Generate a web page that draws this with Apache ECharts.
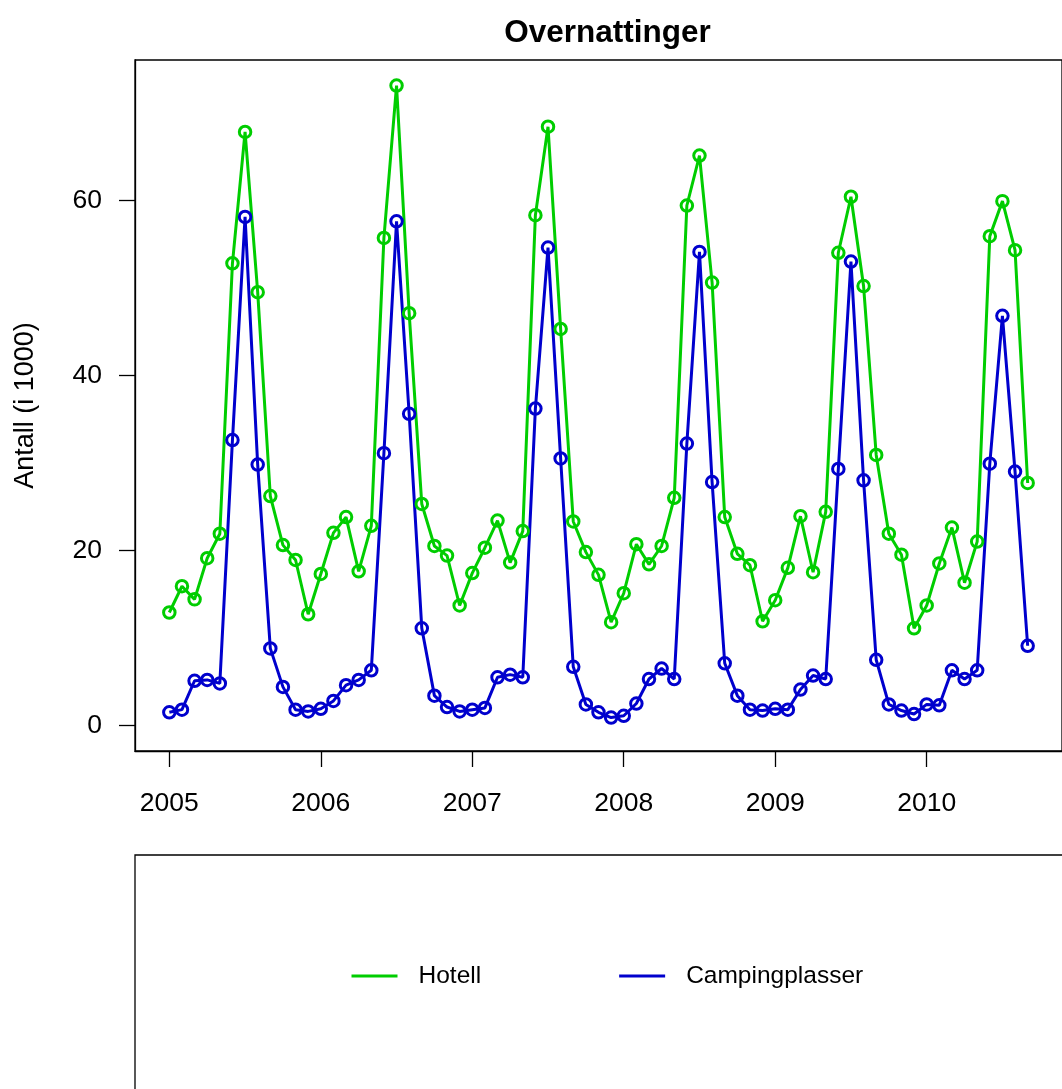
<!DOCTYPE html>
<html>
<head>
<meta charset="utf-8">
<script src="https://cdn.jsdelivr.net/npm/echarts@6/dist/echarts.min.js"></script>
<style>
html,body{margin:0;padding:0;background:#fff;}
#chart{width:1062px;height:1089px;}
</style>
</head>
<body>
<div id="chart"></div>
<script>
// Months (Jan 2005 – Sep 2010)
const periods = [
  '2005-01','2005-02','2005-03','2005-04','2005-05','2005-06','2005-07','2005-08','2005-09','2005-10','2005-11','2005-12',
  '2006-01','2006-02','2006-03','2006-04','2006-05','2006-06','2006-07','2006-08','2006-09','2006-10','2006-11','2006-12',
  '2007-01','2007-02','2007-03','2007-04','2007-05','2007-06','2007-07','2007-08','2007-09','2007-10','2007-11','2007-12',
  '2008-01','2008-02','2008-03','2008-04','2008-05','2008-06','2008-07','2008-08','2008-09','2008-10','2008-11','2008-12',
  '2009-01','2009-02','2009-03','2009-04','2009-05','2009-06','2009-07','2009-08','2009-09','2009-10','2009-11','2009-12',
  '2010-01','2010-02','2010-03','2010-04','2010-05','2010-06','2010-07','2010-08','2010-09'
];

// Hotell (i 1000)
const hotell = [
  12.9, 15.9, 14.4, 19.1, 21.9, 52.8, 67.8, 49.5, 26.2, 20.6, 18.9, 12.7,
  17.3, 22.0, 23.8, 17.6, 22.8, 55.7, 73.1, 47.1, 25.3, 20.5, 19.4, 13.7,
  17.4, 20.3, 23.4, 18.6, 22.2, 58.3, 68.4, 45.3, 23.3, 19.8, 17.2, 11.8,
  15.1, 20.7, 18.4, 20.5, 26.0, 59.4, 65.1, 50.6, 23.8, 19.6, 18.3, 11.9,
  14.3, 18.0, 23.9, 17.5, 24.4, 54.0, 60.4, 50.2, 30.9, 21.9, 19.5, 11.1,
  13.7, 18.5, 22.6, 16.3, 21.0, 55.9, 59.9, 54.3, 27.7
];

// Campingplasser (i 1000)
const camping = [
  1.5, 1.8, 5.1, 5.2, 4.8, 32.6, 58.1, 29.8, 8.8, 4.4, 1.8, 1.6,
  1.9, 2.8, 4.6, 5.2, 6.3, 31.1, 57.6, 35.6, 11.1, 3.4, 2.1, 1.6,
  1.8, 2.0, 5.5, 5.8, 5.5, 36.2, 54.6, 30.5, 6.7, 2.4, 1.5, 0.9,
  1.1, 2.5, 5.3, 6.5, 5.3, 32.2, 54.1, 27.8, 7.1, 3.4, 1.8, 1.7,
  1.9, 1.8, 4.1, 5.7, 5.3, 29.3, 53.0, 28.0, 7.5, 2.4, 1.7, 1.3,
  2.4, 2.3, 6.3, 5.3, 6.3, 29.9, 46.8, 29.0, 9.1
];

const xTicks = [2005, 2006, 2007, 2008, 2009, 2010];
const yTicks = [0, 20, 40, 60];
const seriesNames = ['Hotell', 'Campingplasser'];

const GREEN = '#00CD00';
const BLUE = '#0000CD';
const FONT = 'Liberation Sans, Arial, Helvetica, sans-serif';

// time in fractional years from period strings
const tx = periods.map(p => { const [y, m] = p.split('-').map(Number); return y + (m - 1) / 12; });

// R-style 4% axis extension
const xMinD = Math.min(...tx), xMaxD = Math.max(...tx);
const xr = xMaxD - xMinD;
const xMin = xMinD - 0.04 * xr, xMax = xMaxD + 0.04 * xr;
const yMinD = 0, yMaxD = Math.max(...hotell, ...camping);
const yr = yMaxD - yMinD;
const yMin = yMinD - 0.04 * yr, yMax = yMaxD + 0.04 * yr;

const hotData = tx.map((t, i) => [t, hotell[i]]);
const campData = tx.map((t, i) => [t, camping[i]]);

const chart = echarts.init(document.getElementById('chart'), null, {renderer: 'canvas'});

function mkSeries(name, data, color) {
  return {
    name: name,
    type: 'line',
    data: data,
    symbol: 'circle',
    symbolSize: 11.5,
    showSymbol: true,
    lineStyle: {color: color, width: 3},
    itemStyle: {color: 'rgba(0,0,0,0)', borderColor: color, borderWidth: 3},
    emphasis: {disabled: true},
    clip: false,
    z: 3
  };
}

const option = {
  animation: false,
  backgroundColor: '#fff',
  textStyle: {fontFamily: FONT},
  title: {
    text: 'Overnattinger',
    left: 602.5,
    top: 12,
    textAlign: 'center',
    textStyle: {fontFamily: FONT, fontSize: 31.5, fontWeight: 'bold', color: '#000'}
  },
  grid: {
    left: 135, top: 60, right: -8, bottom: 338,
    show: true, borderColor: '#000', borderWidth: 1.3, backgroundColor: 'rgba(0,0,0,0)',
    containLabel: false
  },
  xAxis: {
    type: 'value',
    min: xMin, max: xMax,
    axisLine: {show: true, onZero: false, lineStyle: {color: '#000', width: 1.3}},
    axisTick: {show: true, inside: false, length: 16, lineStyle: {color: '#000', width: 1.3}, customValues: xTicks},
    axisLabel: {show: true, customValues: xTicks, formatter: v => String(Math.round(v)), fontSize: 26.5, color: '#000', margin: 39, fontFamily: FONT},
    splitLine: {show: false}
  },
  yAxis: {
    type: 'value',
    min: yMin, max: yMax,
    name: 'Antall (i 1000)',
    nameLocation: 'middle',
    nameRotate: 90,
    nameGap: 96,
    nameTextStyle: {fontSize: 27, color: '#000', fontFamily: FONT},
    axisLine: {show: true, onZero: false, lineStyle: {color: '#000', width: 1.3}},
    axisTick: {show: true, inside: false, length: 16, lineStyle: {color: '#000', width: 1.3}, customValues: yTicks},
    axisLabel: {show: true, customValues: yTicks, formatter: v => String(Math.round(v)), fontSize: 26.5, color: '#000', margin: 33, fontFamily: FONT},
    splitLine: {show: false}
  },
  legend: {
    left: 351.5,
    top: 961,
    padding: 0,
    orient: 'horizontal',
    itemWidth: 46,
    itemHeight: 3,
    itemGap: 138,
    selectedMode: false,
    textStyle: {fontSize: 24.5, color: '#000', fontFamily: FONT, lineHeight: 30, padding: [0, 0, 0, 16]},
    data: [
      {name: seriesNames[0], icon: 'rect', itemStyle: {color: GREEN, borderWidth: 0}},
      {name: seriesNames[1], icon: 'rect', itemStyle: {color: BLUE, borderWidth: 0}}
    ]
  },
  graphic: [
    {
      type: 'rect',
      silent: true,
      shape: {x: 135, y: 855, width: 1000, height: 400},
      style: {fill: 'none', stroke: '#000', lineWidth: 1.3}
    }
  ],
  series: [
    mkSeries(seriesNames[0], hotData, GREEN),
    mkSeries(seriesNames[1], campData, BLUE)
  ]
};

chart.setOption(option);
</script>
</body>
</html>
